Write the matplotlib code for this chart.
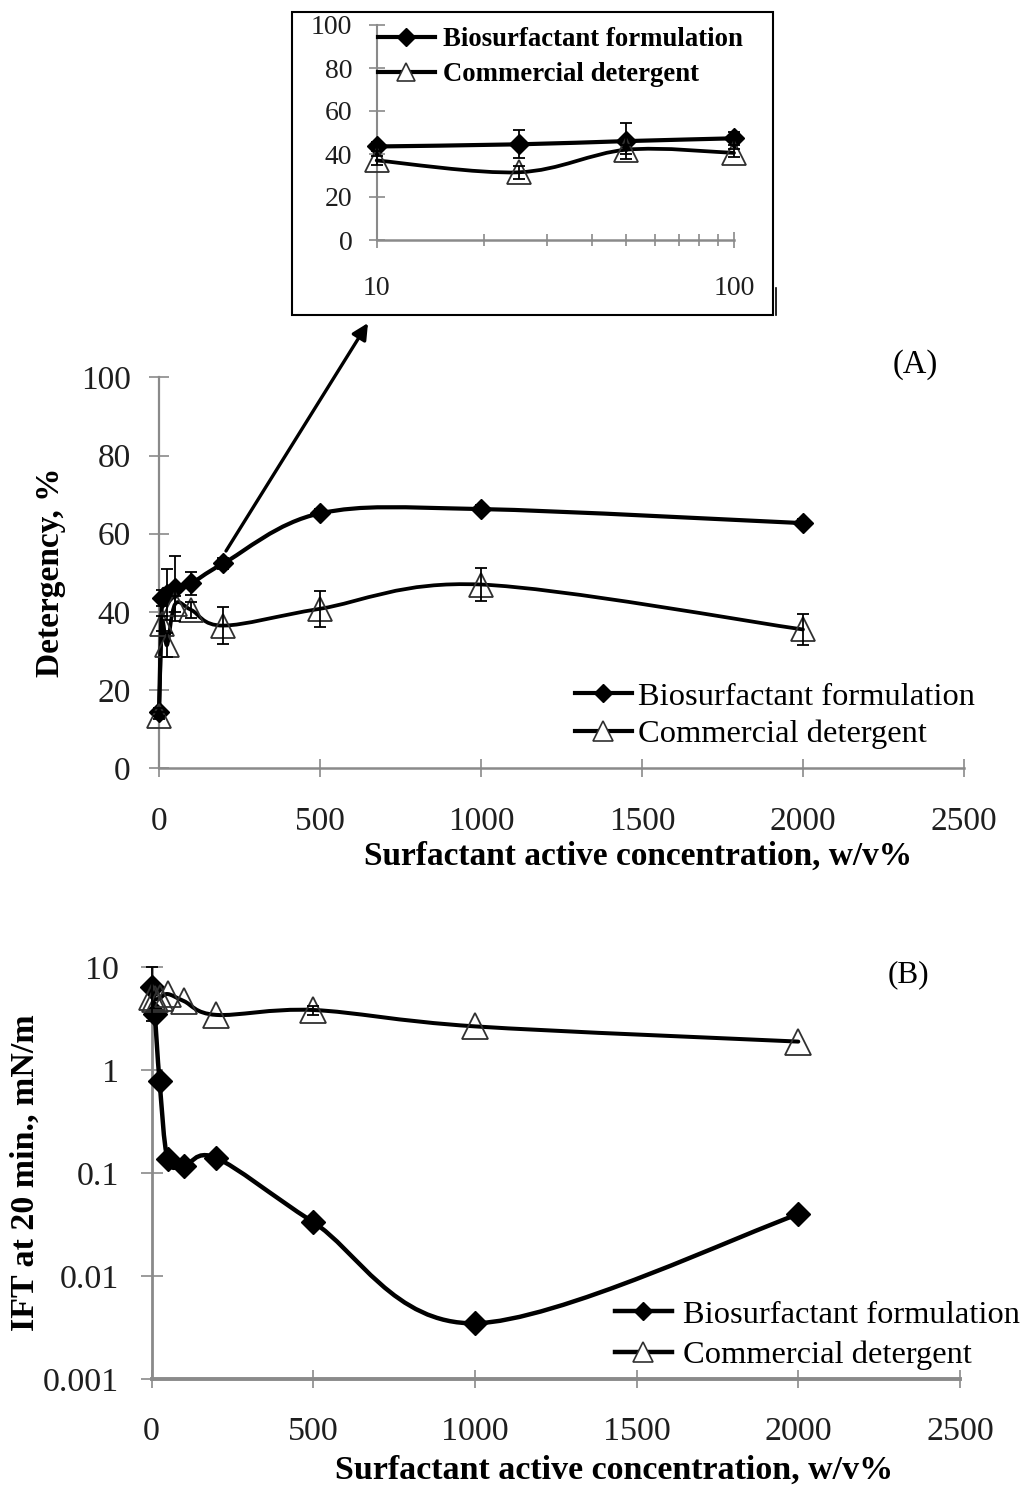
import numpy as np
import matplotlib
matplotlib.use('Agg')
import matplotlib.pyplot as plt
from matplotlib.path import Path
from matplotlib.patches import PathPatch, Rectangle, FancyArrowPatch
from matplotlib.lines import Line2D
from matplotlib.ticker import FixedLocator, NullFormatter, FixedFormatter

# ---------------- data ----------------
conc = [0, 10, 25, 50, 100, 200, 500, 1000, 2000]
bio_det = [14.5, 43.5, 44.5, 46.0, 47.3, 52.4, 65.2, 66.3, 62.7]
bio_det_err = [1.0, 2.0, 6.5, 8.3, 3.0, 1.5, 1.0, 1.0, 1.0]
com_det = [13.5, 37.0, 31.5, 42.0, 40.5, 36.5, 40.8, 47.0, 35.5]
com_det_err = [1.0, 2.0, 3.0, 2.0, 2.0, 4.7, 4.6, 4.3, 4.0]
bio_ift = [6.5, 3.5, 0.78, 0.137, 0.118, 0.141, 0.0336, 0.0035, 0.040]
bio_ift_err = [3.5, 0, 0, 0, 0, 0, 0, 0, 0]
com_ift = [5.2, 4.9, 5.0, 5.5, 4.7, 3.45, 3.85, 2.67, 1.9]
com_ift_err = [0, 0, 0, 0, 0, 0, 0.4, 0, 0]
inset_idx = [1, 2, 3, 4]          # concentrations 10, 25, 50, 100

label_bio = 'Biosurfactant formulation'
label_com = 'Commercial detergent'
xlabel = 'Surfactant active concentration, w/v%'
ylabelA = 'Detergency, %'
ylabelB = 'IFT at 20 min., mN/m'
xticksA = [0, 500, 1000, 1500, 2000, 2500]
yticksA = [0, 20, 40, 60, 80, 100]
yticksB = [0.001, 0.01, 0.1, 1, 10]
yticklabelsB = ['0.001', '0.01', '0.1', '1', '10']
yticksI = [0, 20, 40, 60, 80, 100]
xticksI = [10, 100]
xminorI = [20, 30, 40, 50, 60, 70, 80, 90]

# ---------------- style ----------------
plt.rcParams['font.family'] = ['Liberation Serif', 'DejaVu Serif']
GRAY = '#8a8a8a'
TXT = '#1e1e1e'
W, H = 1024, 1493
fig = plt.figure(figsize=(W / 100, H / 100), dpi=100)


def rect(x0, y0, x1, y1):
    return [x0 / W, 1 - y1 / H, (x1 - x0) / W, (y1 - y0) / H]


def fx(px):
    return px / W


def fy(py):
    return 1 - py / H


def smooth(ax, x, y, logx=False, logy=False, **kw):
    u = np.log10(x) if logx else np.asarray(x, float)
    v = np.log10(y) if logy else np.asarray(y, float)
    P = np.column_stack([u, v])
    n = len(P)
    verts = [P[0]]
    codes = [Path.MOVETO]
    for i in range(n - 1):
        p0 = P[i - 1] if i > 0 else P[i]
        p1 = P[i]
        p2 = P[i + 1]
        p3 = P[i + 2] if i + 2 < n else P[i + 1]
        verts += [p1 + (p2 - p0) / 6.0, p2 - (p3 - p1) / 6.0, p2]
        codes += [Path.CURVE4] * 3
    V = np.array(verts)
    if logx:
        V[:, 0] = 10 ** V[:, 0]
    if logy:
        V[:, 1] = 10 ** V[:, 1]
    ax.add_patch(PathPatch(Path(V, codes), fill=False, capstyle='round',
                           joinstyle='round', clip_on=False, **kw))


def style(ax, fs, ylen, xlen, lwl, lwb, ypad, xpad):
    for s in ['top', 'right']:
        ax.spines[s].set_visible(False)
    ax.spines['left'].set_color(GRAY)
    ax.spines['left'].set_linewidth(lwl)
    ax.spines['bottom'].set_color(GRAY)
    ax.spines['bottom'].set_linewidth(lwb)
    ax.tick_params(axis='y', which='major', direction='inout', length=ylen,
                   width=1.2, color=GRAY, labelsize=fs, labelcolor=TXT, pad=ypad)
    ax.tick_params(axis='x', which='major', direction='inout', length=xlen,
                   width=1.2, color=GRAY, labelsize=fs, labelcolor=TXT, pad=xpad)
    ax.patch.set_alpha(0)


def series(ax, x, yb, eb, yc, ec, logx=False, logy=False, ms_d=10.5, ms_t=17, lw=3.0):
    smooth(ax, x, yb, logx, logy, lw=lw, edgecolor='k', zorder=3)
    smooth(ax, x, yc, logx, logy, lw=lw * 0.9, edgecolor='k', zorder=3)
    ax.plot(x, yb, ls='none', marker='D', ms=ms_d, mfc='k', mec='k', zorder=4, clip_on=False)
    ax.plot(x, yc, ls='none', marker='^', ms=ms_t, mfc='none', mec='#303030',
            mew=1.3, zorder=4, clip_on=False)
    for y, e in [(yb, eb), (yc, ec)]:
        xs = [a for a, b in zip(x, e) if b > 0]
        ys = [a for a, b in zip(y, e) if b > 0]
        es = [b for b in e if b > 0]
        if xs:
            ebar = ax.errorbar(xs, ys, yerr=es, fmt='none', ecolor='k', elinewidth=1.3,
                               capsize=4, capthick=1.3, zorder=5)
            for art in ebar.lines[1] + ebar.lines[2]:
                art.set_clip_on(False)


def handles(ms_d, ms_t, lw):
    hb = Line2D([], [], color='k', lw=lw, marker='D', ms=ms_d, mfc='k', mec='k')
    hc = Line2D([], [], color='k', lw=lw, marker='^', ms=ms_t, mfc='white', mec='#303030', mew=1.2)
    return [hb, hc]


# ---------------- Panel A ----------------
axA = fig.add_axes(rect(159, 377.3, 964, 768.3))
axA.set_xlim(0, 2500)
axA.set_ylim(0, 100)
axA.set_xticks(xticksA)
axA.set_yticks(yticksA)
style(axA, 24, 15, 13, 1.6, 1.8, 13, 21)
series(axA, conc, bio_det, bio_det_err, com_det, com_det_err)
legA = fig.legend(handles(9, 14, 3.0), [label_bio, label_com], loc='upper left',
                  bbox_to_anchor=(fx(575), fy(682)), bbox_transform=fig.transFigure,
                  frameon=False, fontsize=23.4, handlelength=1.75, handletextpad=0.18,
                  labelspacing=0.24, borderpad=0, borderaxespad=0)
fig.text(fx(51), fy(572), ylabelA, rotation=90, ha='center', va='center',
         fontsize=24, fontweight='bold')
fig.text(fx(638), fy(856), xlabel, ha='center', va='center', fontsize=24, fontweight='bold')
fig.text(fx(915), fy(365), '(A)', ha='center', va='center', fontsize=23.5)

# ---------------- Panel B ----------------
axB = fig.add_axes(rect(151.5, 967.3, 960, 1379.3))
axB.set_yscale('log')
axB.set_xlim(0, 2500)
axB.set_ylim(0.001, 10)
axB.set_xticks(xticksA)
axB.yaxis.set_major_locator(FixedLocator(yticksB))
axB.yaxis.set_major_formatter(FixedFormatter(yticklabelsB))
axB.yaxis.set_minor_locator(FixedLocator([]))
style(axB, 24.5, 15.5, 13, 2.0, 2.8, 15.5, 20.5)
series(axB, conc, bio_ift, bio_ift_err, com_ift, com_ift_err, logy=True, ms_d=12.5, ms_t=19, lw=3.2)
legB = fig.legend(handles(9, 14, 3.2), [label_bio, label_com], loc='upper left',
                  bbox_to_anchor=(fx(615), fy(1300)), bbox_transform=fig.transFigure,
                  frameon=False, fontsize=23.4, handlelength=1.75, handletextpad=0.34,
                  labelspacing=0.33, borderpad=0, borderaxespad=0)
fig.text(fx(25), fy(1173), ylabelB, rotation=90, ha='center', va='center',
         fontsize=24.5, fontweight='bold')
fig.text(fx(614), fy(1470), xlabel, ha='center', va='center', fontsize=24.5, fontweight='bold')
fig.text(fx(908), fy(975), '(B)', ha='center', va='center', fontsize=22.5)

# ---------------- Inset ----------------
axI = fig.add_axes(rect(376.7, 25, 734, 240))
axI.set_xscale('log')
axI.set_xlim(10, 100)
axI.set_ylim(0, 100)
axI.set_yticks(yticksI)
axI.xaxis.set_major_locator(FixedLocator(xticksI))
axI.xaxis.set_major_formatter(FixedFormatter([str(t) for t in xticksI]))
axI.xaxis.set_minor_locator(FixedLocator(xminorI))
axI.xaxis.set_minor_formatter(NullFormatter())
style(axI, 20, 12, 12, 1.5, 1.8, 11.5, 20)
axI.tick_params(axis='x', which='minor', direction='inout', length=9, width=1.2, color=GRAY)
xi = [conc[i] for i in inset_idx]
series(axI, xi, [bio_det[i] for i in inset_idx], [bio_det_err[i] for i in inset_idx],
       [com_det[i] for i in inset_idx], [com_det_err[i] for i in inset_idx],
       logx=True, ms_d=10.5, ms_t=17, lw=3.0)
legI = fig.legend(handles(9, 13, 3.0), [label_bio, label_com], loc='upper left',
                  bbox_to_anchor=(fx(378), fy(27)), bbox_transform=fig.transFigure,
                  frameon=False, prop={'size': 19.3, 'weight': 'bold'},
                  handlelength=2.12, handletextpad=0.3, labelspacing=0.37,
                  borderpad=0, borderaxespad=0)

# inset frame
fig.add_artist(Rectangle((fx(292), fy(315)), fx(773) - fx(292), fy(12) - fy(315),
                         transform=fig.transFigure, fill=False, lw=1.5, edgecolor='k'))
fig.add_artist(Line2D([fx(776), fx(776)], [fy(288), fy(315)], transform=fig.transFigure,
                      color='k', lw=1.2))

# arrow
fig.add_artist(FancyArrowPatch((fx(226), fy(551)), (fx(368), fy(323)),
                               transform=fig.transFigure, arrowstyle='-|>',
                               mutation_scale=24, lw=2.4, color='k', shrinkA=0, shrinkB=0))

fig.savefig('out.png', dpi=100)
